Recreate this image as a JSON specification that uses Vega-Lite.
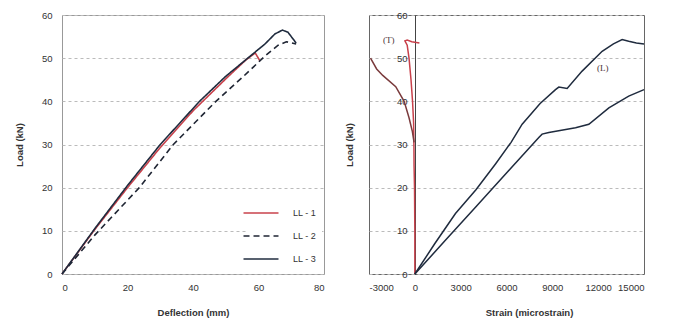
{
  "$schema": "https://vega.github.io/schema/vega-lite/v6.json",
  "padding": {"left": 13, "top": 9, "right": 5, "bottom": 5},
  "background": "white",
  "spacing": 45,
  "bounds": "flush",
  "resolve": {"scale": {"color": "independent", "strokeDash": "independent"}, "legend": {"color": "independent", "strokeDash": "independent"}},
  "config": {
    "font": "Liberation Sans",
    "view": {"stroke": "#999", "strokeWidth": 1},
    "axis": {"labelFont": "Liberation Sans", "titleFont": "Liberation Sans", "labelFontSize": 9.5, "labelColor": "#333", "titleFontSize": 9.5, "titleColor": "#333", "titleFontWeight": "bold", "ticks": false, "grid": false, "domain": false}
  },
  "hconcat": [
    {
      "width": 262,
      "height": 259,
      "data": {"values": [
        {"s": "LL - 1", "o": 0, "x": 0, "y": 0},
        {"s": "LL - 1", "o": 1, "x": 10, "y": 10.3},
        {"s": "LL - 1", "o": 2, "x": 20, "y": 20},
        {"s": "LL - 1", "o": 3, "x": 30, "y": 29.3},
        {"s": "LL - 1", "o": 4, "x": 40, "y": 37.8},
        {"s": "LL - 1", "o": 5, "x": 50, "y": 45.2},
        {"s": "LL - 1", "o": 6, "x": 56, "y": 49.5},
        {"s": "LL - 1", "o": 7, "x": 59, "y": 51.2},
        {"s": "LL - 1", "o": 8, "x": 60.5, "y": 49.3},
        {"s": "LL - 2", "o": 0, "x": 0, "y": 0},
        {"s": "LL - 2", "o": 1, "x": 10, "y": 9},
        {"s": "LL - 2", "o": 2, "x": 23.6, "y": 20},
        {"s": "LL - 2", "o": 3, "x": 34, "y": 30},
        {"s": "LL - 2", "o": 4, "x": 47, "y": 40},
        {"s": "LL - 2", "o": 5, "x": 55, "y": 45.5},
        {"s": "LL - 2", "o": 6, "x": 62, "y": 50.5},
        {"s": "LL - 2", "o": 7, "x": 66, "y": 53},
        {"s": "LL - 2", "o": 8, "x": 68.5, "y": 53.8},
        {"s": "LL - 2", "o": 9, "x": 71.5, "y": 53.3},
        {"s": "LL - 3", "o": 0, "x": 0, "y": 0},
        {"s": "LL - 3", "o": 1, "x": 10, "y": 10.5},
        {"s": "LL - 3", "o": 2, "x": 20, "y": 20.5},
        {"s": "LL - 3", "o": 3, "x": 30, "y": 30},
        {"s": "LL - 3", "o": 4, "x": 42, "y": 40},
        {"s": "LL - 3", "o": 5, "x": 50, "y": 45.8},
        {"s": "LL - 3", "o": 6, "x": 58, "y": 50.8},
        {"s": "LL - 3", "o": 7, "x": 62, "y": 53.3},
        {"s": "LL - 3", "o": 8, "x": 65, "y": 55.6},
        {"s": "LL - 3", "o": 9, "x": 67.3, "y": 56.5},
        {"s": "LL - 3", "o": 10, "x": 69, "y": 56},
        {"s": "LL - 3", "o": 11, "x": 70.5, "y": 54.5},
        {"s": "LL - 3", "o": 12, "x": 71.5, "y": 53.5}
      ]},
      "mark": {"type": "line", "strokeWidth": 1.6},
      "encoding": {
        "x": {"field": "x", "type": "quantitative", "scale": {"domain": [0, 80], "nice": false}, "axis": {"values": [0, 20, 40, 60, 80], "title": "Deflection (mm)", "labelPadding": 8, "titlePadding": 16}},
        "y": {"field": "y", "type": "quantitative", "scale": {"domain": [0, 60], "nice": false}, "axis": {"values": [0, 10, 20, 30, 40, 50, 60], "title": "Load (kN)", "labelPadding": 10, "grid": true, "gridDash": [3, 3], "gridColor": "#bbb", "titleX": -38}},
        "order": {"field": "o", "type": "quantitative"},
        "color": {"field": "s", "type": "nominal", "scale": {"domain": ["LL - 1", "LL - 2", "LL - 3"], "range": ["#c8414b", "#1f2533", "#1f2b3e"]},
          "legend": {"title": null, "orient": "none", "legendX": 184, "legendY": 183, "fillColor": "white", "padding": 5, "symbolType": "M-2,0H2", "symbolSize": 306, "symbolStrokeWidth": 1.6, "rowPadding": 8, "labelOffset": 22, "labelFontSize": 9, "labelColor": "#333", "labelFont": "Liberation Sans"}},
        "strokeDash": {"field": "s", "type": "nominal", "scale": {"domain": ["LL - 1", "LL - 2", "LL - 3"], "range": [[1, 0], [6, 4], [1, 0]]},
          "legend": {"title": null, "orient": "none", "legendX": 184, "legendY": 183, "fillColor": "white", "padding": 5, "symbolType": "M-2,0H2", "symbolSize": 306, "symbolStrokeWidth": 1.6, "rowPadding": 8, "labelOffset": 22, "labelFontSize": 9, "labelColor": "#333", "labelFont": "Liberation Sans"}}
      }
    },
    {
      "width": 275,
      "height": 259,
      "view": {"stroke": "#666"},
      "layer": [
        {
          "data": {"values": [
            {"s": "T1", "o": 0, "x": 0, "y": 0},
            {"s": "T1", "o": 1, "x": 0, "y": 10},
            {"s": "T1", "o": 2, "x": -20, "y": 20},
            {"s": "T1", "o": 3, "x": -50, "y": 25},
            {"s": "T1", "o": 4, "x": -60, "y": 30},
            {"s": "T1", "o": 5, "x": -80, "y": 35},
            {"s": "T1", "o": 6, "x": -150, "y": 40},
            {"s": "T1", "o": 7, "x": -250, "y": 45},
            {"s": "T1", "o": 8, "x": -380, "y": 50},
            {"s": "T1", "o": 9, "x": -500, "y": 53},
            {"s": "T1", "o": 10, "x": -650, "y": 54},
            {"s": "T1", "o": 11, "x": -500, "y": 54.2},
            {"s": "T1", "o": 12, "x": -200, "y": 53.8},
            {"s": "T1", "o": 13, "x": 300, "y": 53.5},
            {"s": "T2", "o": 0, "x": -2900, "y": 50},
            {"s": "T2", "o": 1, "x": -2500, "y": 47.5},
            {"s": "T2", "o": 2, "x": -2100, "y": 46},
            {"s": "T2", "o": 3, "x": -1250, "y": 43.4},
            {"s": "T2", "o": 4, "x": -700, "y": 40},
            {"s": "T2", "o": 5, "x": -380, "y": 36.2},
            {"s": "T2", "o": 6, "x": -160, "y": 33},
            {"s": "T2", "o": 7, "x": -50, "y": 30.5},
            {"s": "L1", "o": 0, "x": 0, "y": 0},
            {"s": "L1", "o": 1, "x": 1300, "y": 7},
            {"s": "L1", "o": 2, "x": 2660, "y": 14},
            {"s": "L1", "o": 3, "x": 4000, "y": 19.5},
            {"s": "L1", "o": 4, "x": 5280, "y": 25.5},
            {"s": "L1", "o": 5, "x": 6300, "y": 30.5},
            {"s": "L1", "o": 6, "x": 7025, "y": 34.7},
            {"s": "L1", "o": 7, "x": 8200, "y": 39.5},
            {"s": "L1", "o": 8, "x": 9207, "y": 42.7},
            {"s": "L1", "o": 9, "x": 9425, "y": 43.3},
            {"s": "L1", "o": 10, "x": 9970, "y": 43},
            {"s": "L1", "o": 11, "x": 10950, "y": 47},
            {"s": "L1", "o": 12, "x": 12260, "y": 51.6},
            {"s": "L1", "o": 13, "x": 13000, "y": 53.3},
            {"s": "L1", "o": 14, "x": 13570, "y": 54.3},
            {"s": "L1", "o": 15, "x": 14000, "y": 53.9},
            {"s": "L1", "o": 16, "x": 14500, "y": 53.5},
            {"s": "L1", "o": 17, "x": 15000, "y": 53.3},
            {"s": "L2", "o": 0, "x": 0, "y": 0},
            {"s": "L2", "o": 1, "x": 2000, "y": 7.8},
            {"s": "L2", "o": 2, "x": 4000, "y": 15.6},
            {"s": "L2", "o": 3, "x": 6000, "y": 23.4},
            {"s": "L2", "o": 4, "x": 8115, "y": 31.6},
            {"s": "L2", "o": 5, "x": 8330, "y": 32.4},
            {"s": "L2", "o": 6, "x": 8770, "y": 32.8},
            {"s": "L2", "o": 7, "x": 10520, "y": 33.9},
            {"s": "L2", "o": 8, "x": 11390, "y": 34.7},
            {"s": "L2", "o": 9, "x": 12700, "y": 38.5},
            {"s": "L2", "o": 10, "x": 14000, "y": 41.2},
            {"s": "L2", "o": 11, "x": 15000, "y": 42.7}
          ]},
          "mark": {"type": "line", "strokeWidth": 1.5},
          "encoding": {
            "x": {"field": "x", "type": "quantitative", "scale": {"domain": [-3000, 15000], "nice": false}, "axis": {"values": [-3000, 0, 3000, 6000, 9000, 12000, 15000], "labelExpr": "datum.value < 0 ? '-3000' : format(datum.value, 'd')", "title": "Strain (microstrain)", "labelPadding": 8, "titlePadding": 16, "titleX": 160}},
            "y": {"field": "y", "type": "quantitative", "scale": {"domain": [0, 60], "nice": false}, "axis": {"values": [0, 10, 20, 30, 40, 50, 60], "title": "Load (kN)", "offset": -46, "domain": true, "domainColor": "#444", "labelPadding": 8, "grid": true, "gridDash": [3, 3], "gridColor": "#bbb", "titleX": -61}},
            "order": {"field": "o", "type": "quantitative"},
            "color": {"field": "s", "type": "nominal", "scale": {"domain": ["T1", "T2", "L1", "L2"], "range": ["#c8414b", "#7a3a3c", "#1f2b3e", "#1f2b3e"]}, "legend": null}
          }
        },
        {
          "data": {"values": [
            {"t": "(T)", "x": -1700, "y": 54.2},
            {"t": "(L)", "x": 12300, "y": 47.8}
          ]},
          "mark": {"type": "text", "fontSize": 9, "font": "Liberation Serif"},
          "encoding": {
            "x": {"field": "x", "type": "quantitative"},
            "y": {"field": "y", "type": "quantitative"},
            "text": {"field": "t"},
            "color": {"value": "#4a3036"}
          }
        }
      ]
    }
  ]
}
